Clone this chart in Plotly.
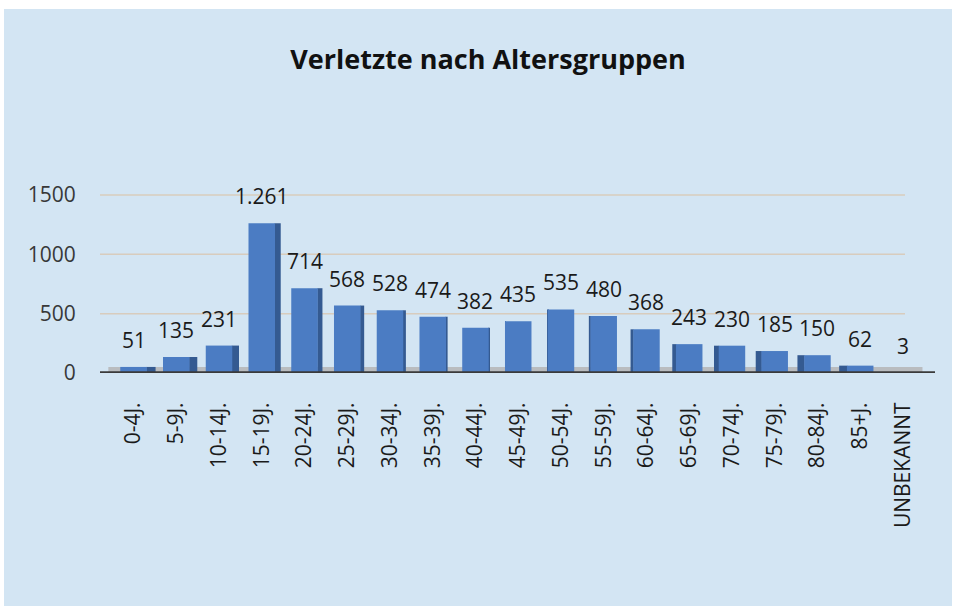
import plotly.graph_objects as go

categories = ["0-4J.", "5-9J.", "10-14J.", "15-19J.", "20-24J.", "25-29J.", "30-34J.",
              "35-39J.", "40-44J.", "45-49J.", "50-54J.", "55-59J.", "60-64J.", "65-69J.",
              "70-74J.", "75-79J.", "80-84J.", "85+J.", "UNBEKANNT"]
values = [51, 135, 231, 1261, 714, 568, 528, 474, 382, 435, 535, 480, 368, 243,
          230, 185, 150, 62, 3]
y_ticks = [0, 500, 1000, 1500]
title_text = "Verletzte nach Altersgruppen"

labels = [f"{v:,}".replace(",", ".") for v in values]

FONT = "Open Sans"
FRONT = "#4b7cc3"
SIDE = "#345a91"

n = len(categories)
xs = list(range(n))
front_w = 0.62
center = 9
side_w = [abs(i - center) * 0.024 for i in xs]
side_off = [front_w / 2 - 0.01 if i < center else -front_w / 2 - w + 0.01
            for i, w in zip(xs, side_w)]

fig = go.Figure()
fig.add_trace(go.Bar(x=xs, y=values, width=side_w, offset=side_off,
                     marker=dict(color=SIDE, line=dict(width=0)), hoverinfo="skip"))
fig.add_trace(go.Bar(x=xs, y=values, width=front_w, offset=-front_w / 2,
                     marker=dict(color=FRONT, line=dict(width=0))))

for i, (v, t) in enumerate(zip(values, labels)):
    fig.add_annotation(x=i, y=v, text=t, showarrow=False, yshift=27,
                       font=dict(family=FONT, size=21, color="#1a1a1a"))

L, R = 100, 935
PW = R - L
ZERO_PX, TOP_PX = 373, 183
PH = ZERO_PX - TOP_PX

shapes = []
# panel background
shapes.append(dict(type="rect", xref="paper", yref="paper", layer="below",
                   x0=(4 - L) / PW, x1=(952 - L) / PW,
                   y0=(ZERO_PX - 606) / PH, y1=(ZERO_PX - 9) / PH,
                   fillcolor="#d3e5f3", line=dict(width=0)))
# gridlines
for t in y_ticks[1:]:
    shapes.append(dict(type="line", xref="paper", yref="y", layer="below",
                       x0=0, x1=(905 - L) / PW, y0=t, y1=t,
                       line=dict(color="#d8ccbd", width=1.5)))
# floor
shapes.append(dict(type="rect", xref="paper", yref="y", layer="below",
                   x0=0.01, x1=0.985, y0=0, y1=50,
                   fillcolor="#b9bcbf", line=dict(width=0)))
# base line
shapes.append(dict(type="line", xref="paper", yref="y", layer="above",
                   x0=0, x1=1, y0=0, y1=0,
                   line=dict(color="#3a3a3a", width=3.5)))

fig.update_layout(
    width=956, height=614,
    margin=dict(l=L, r=956 - R, t=TOP_PX, b=614 - ZERO_PX, pad=0),
    paper_bgcolor="white", plot_bgcolor="rgba(0,0,0,0)",
    barmode="overlay", showlegend=False, shapes=shapes,
    title=dict(text=f"<b>{title_text}</b>", x=488 / 956, xref="container",
               xanchor="center", y=1 - 60 / 614, yref="container", yanchor="middle",
               font=dict(family=FONT, size=27, color="#111111")),
    xaxis=dict(range=[-0.784, 18.75], tickmode="array", tickvals=xs, ticktext=categories,
               tickangle=-90, showgrid=False, zeroline=False, showline=False,
               ticks="outside", ticklen=20, tickcolor="rgba(0,0,0,0)",
               tickfont=dict(family=FONT, size=21, color="#1a1a1a")),
    yaxis=dict(range=[0, 1600], tickmode="array", tickvals=y_ticks,
               showgrid=False, zeroline=False, showline=False,
               ticks="outside", ticklen=19, tickcolor="rgba(0,0,0,0)",
               tickfont=dict(family=FONT, size=21, color="#383838")),
)

fig.write_html("out.html", config={"displayModeBar": False},
               post_script="document.body.style.margin='0';document.body.style.overflow='hidden';")
